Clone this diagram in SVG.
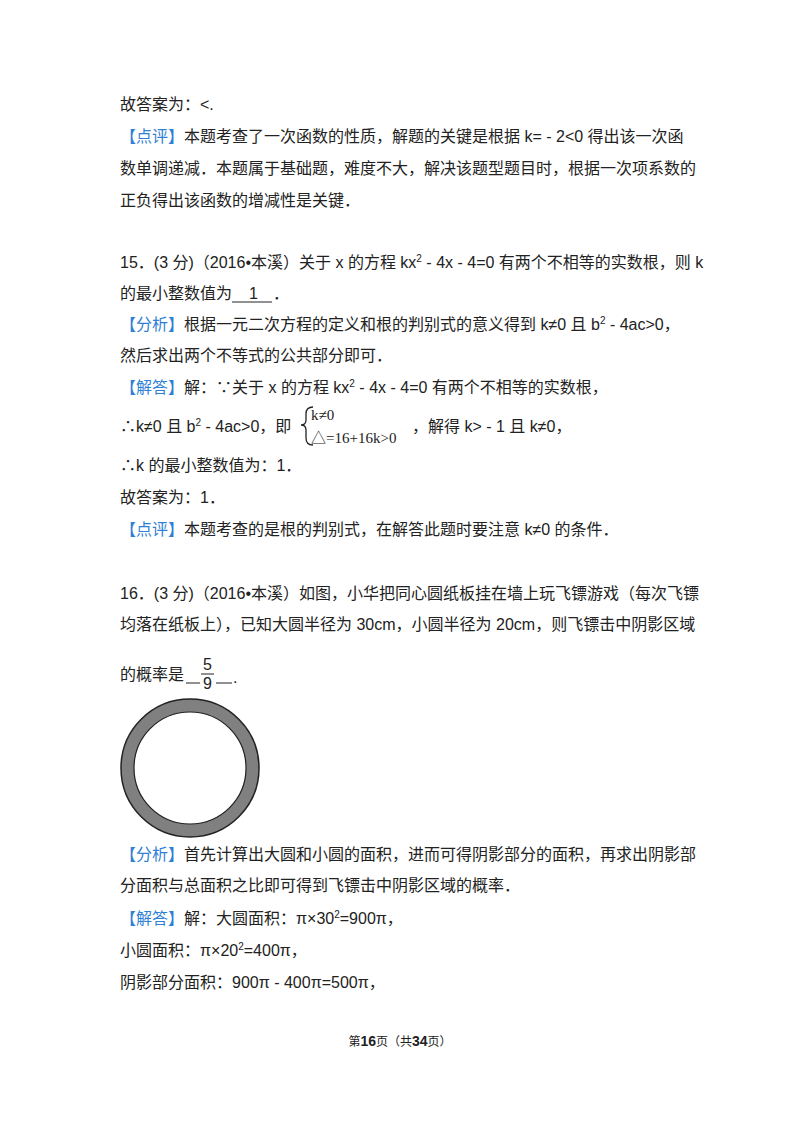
<svg xmlns="http://www.w3.org/2000/svg" width="800" height="1132" viewBox="0 0 800 1132">
<style>
text{font-family:"Liberation Sans","Noto Sans CJK SC",sans-serif;font-size:16px;fill:#222}
.b{fill:#2f7fd6}
.m{font-family:"Liberation Serif","Noto Sans CJK SC",serif;font-size:15px}
.f{font-size:12px}
</style>
<rect width="800" height="1132" fill="#fff"/>
<text x="120" y="110">故答案为：&lt;.</text>
<text x="120" y="142"><tspan class="b">【点评】</tspan>本题考查了一次函数的性质，解题的关键是根据 k= - 2&lt;0 得出该一次函</text>
<text x="120" y="174">数单调递减．本题属于基础题，难度不大，解决该题型题目时，根据一次项系数的</text>
<text x="120" y="206">正负得出该函数的增减性是关键．</text>
<text x="120" y="268">15．(3 分)（2016•本溪）关于 x 的方程 kx<tspan font-size="10" dy="-6">2</tspan><tspan dy="6"> - 4x - 4=0 有两个不相等的实数根，则 k</tspan></text>
<text x="120" y="299">的最小整数值为</text>
<text x="249" y="299">1</text>
<text x="273" y="299">．</text>
<line x1="232" y1="302" x2="272" y2="302" stroke="#222"/>
<text x="120" y="330"><tspan class="b">【分析】</tspan>根据一元二次方程的定义和根的判别式的意义得到 k≠0 且 b<tspan font-size="10" dy="-6">2</tspan><tspan dy="6"> - 4ac&gt;0，</tspan></text>
<text x="120" y="361">然后求出两个不等式的公共部分即可．</text>
<text x="120" y="393"><tspan class="b">【解答】</tspan>解：∵关于 x 的方程 kx<tspan font-size="10" dy="-6">2</tspan><tspan dy="6"> - 4x - 4=0 有两个不相等的实数根，</tspan></text>
<text x="120" y="432">∴k≠0 且 b<tspan font-size="10" dy="-6">2</tspan><tspan dy="6"> - 4ac&gt;0，即</tspan></text>
<path d="M313 407 Q306 407 306 414 L306 420 Q306 425 301 425 Q306 425 306 430 L306 438 Q306 445 313 445" fill="none" stroke="#222" stroke-width="1.3"/>
<text class="m" x="311" y="420">k≠0</text>
<text class="m" x="311" y="443">△=16+16k&gt;0</text>
<text x="412" y="432">，解得 k&gt; - 1 且 k≠0，</text>
<text x="120" y="471">∴k 的最小整数值为：1．</text>
<text x="120" y="503">故答案为：1．</text>
<text x="120" y="535"><tspan class="b">【点评】</tspan>本题考查的是根的判别式，在解答此题时要注意 k≠0 的条件．</text>
<text x="120" y="599">16．(3 分)（2016•本溪）如图，小华把同心圆纸板挂在墙上玩飞镖游戏（每次飞镖</text>
<text x="120" y="630">均落在纸板上），已知大圆半径为 30cm，小圆半径为 20cm，则飞镖击中阴影区域</text>
<text x="120" y="680">的概率是</text>
<line x1="186" y1="683" x2="200" y2="683" stroke="#222"/>
<text x="203" y="670" font-size="14">5</text>
<line x1="201" y1="674" x2="214" y2="674" stroke="#222"/>
<text x="203" y="689" font-size="14">9</text>
<line x1="216" y1="683" x2="232" y2="683" stroke="#222"/>
<text x="233" y="683">.</text>
<circle cx="190" cy="768" r="69" fill="#808080" stroke="#222" stroke-width="1.5"/>
<circle cx="190" cy="768" r="56" fill="#fff" stroke="#222" stroke-width="1.2"/>
<text x="120" y="860"><tspan class="b">【分析】</tspan>首先计算出大圆和小圆的面积，进而可得阴影部分的面积，再求出阴影部</text>
<text x="120" y="891">分面积与总面积之比即可得到飞镖击中阴影区域的概率．</text>
<text x="120" y="924"><tspan class="b">【解答】</tspan>解：大圆面积：π×30<tspan font-size="10" dy="-6">2</tspan><tspan dy="6">=900π，</tspan></text>
<text x="120" y="956">小圆面积：π×20<tspan font-size="10" dy="-6">2</tspan><tspan dy="6">=400π，</tspan></text>
<text x="120" y="988">阴影部分面积：900π - 400π=500π，</text>
<text class="f" x="400" y="1046" text-anchor="middle">第<tspan font-weight="bold" font-size="14">16</tspan>页（共<tspan font-weight="bold" font-size="14">34</tspan>页）</text>
</svg>
